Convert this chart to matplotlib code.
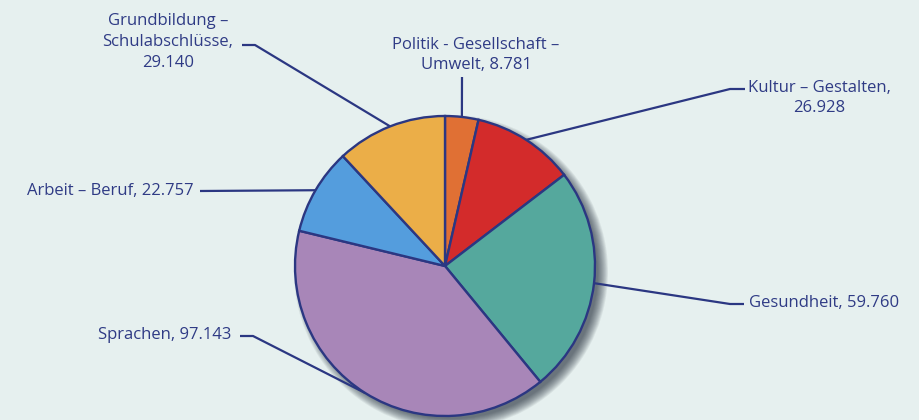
import matplotlib
matplotlib.use("Agg")
import matplotlib.pyplot as plt
import numpy as np
from matplotlib.patches import Circle

# ---- data ----
categories = ["Politik - Gesellschaft – Umwelt", "Kultur – Gestalten", "Gesundheit",
              "Sprachen", "Arbeit – Beruf", "Grundbildung – Schulabschlüsse"]
values = [8.781, 26.928, 59.760, 97.143, 22.757, 29.140]
label_texts = [
    "Politik - Gesellschaft –\nUmwelt, 8.781",
    "Kultur – Gestalten,\n26.928",
    "Gesundheit, 59.760",
    "Sprachen, 97.143",
    "Arbeit – Beruf, 22.757",
    "Grundbildung –\nSchulabschlüsse,\n29.140",
]
colors = ["#e07034", "#d32b2b", "#55a89d", "#a886b8", "#549ddd", "#ebae48"]

# ---- layout (pixel coords, origin top-left) ----
W, H = 919, 420
CX, CY, R = 445, 266, 150
BG = "#e6f0ef"
NAVY = "#2b3782"
TXT = "#2f3b85"
layout = [
    dict(elbow=None, tick=None, text=(476, 55), ha="center", end=(462, 77)),
    dict(elbow=(730, 89), tick=(745, 89), text=(748, 98), ha="left"),
    dict(elbow=(730, 304), tick=(744, 304), text=(749, 303), ha="left"),
    dict(elbow=(253, 336), tick=(240, 336), text=(231, 335), ha="right"),
    dict(elbow=None, tick=(200, 191), text=(194, 191), ha="right"),
    dict(elbow=(255, 45), tick=(242, 45), text=(168, 42), ha="center"),
]

def py(y):
    return H - y

fig = plt.figure(figsize=(W / 100, H / 100), dpi=100, facecolor=BG)
ax = fig.add_axes([0, 0, 1, 1])
ax.set_facecolor(BG)

# soft shadow
for k in range(12):
    ax.add_patch(Circle((CX + 6, py(CY + 6)), R + 7 - k * 0.9, facecolor="#1a2530",
                        alpha=0.07, edgecolor="none", zorder=1))

wedges, _ = ax.pie(values, colors=colors, startangle=90, counterclock=False,
                   center=(CX, py(CY)), radius=R, frame=True,
                   wedgeprops=dict(edgecolor=NAVY, linewidth=1.7, zorder=2))
ax.set_xlim(0, W)
ax.set_ylim(0, H)
ax.set_aspect("equal")
ax.axis("off")

for w, lab, lay in zip(wedges, label_texts, layout):
    ang = np.deg2rad((w.theta1 + w.theta2) / 2)
    ex, ey = CX + R * np.cos(ang), py(CY) + R * np.sin(ang)
    xs, ys = [ex], [ey]
    if lay.get("end") is not None:
        xs.append(lay["end"][0]); ys.append(py(lay["end"][1]))
    if lay["elbow"] is not None:
        xs.append(lay["elbow"][0]); ys.append(py(lay["elbow"][1]))
    if lay["tick"] is not None:
        xs.append(lay["tick"][0]); ys.append(py(lay["tick"][1]))
    ax.plot(xs, ys, color=NAVY, lw=1.6, zorder=1.5, solid_capstyle="butt")
    ax.text(lay["text"][0], py(lay["text"][1]), lab, ha=lay["ha"], va="center",
            multialignment="center", fontsize=12, color=TXT, family="Open Sans",
            linespacing=1.4)

fig.savefig("out.png", dpi=100, facecolor=BG)
